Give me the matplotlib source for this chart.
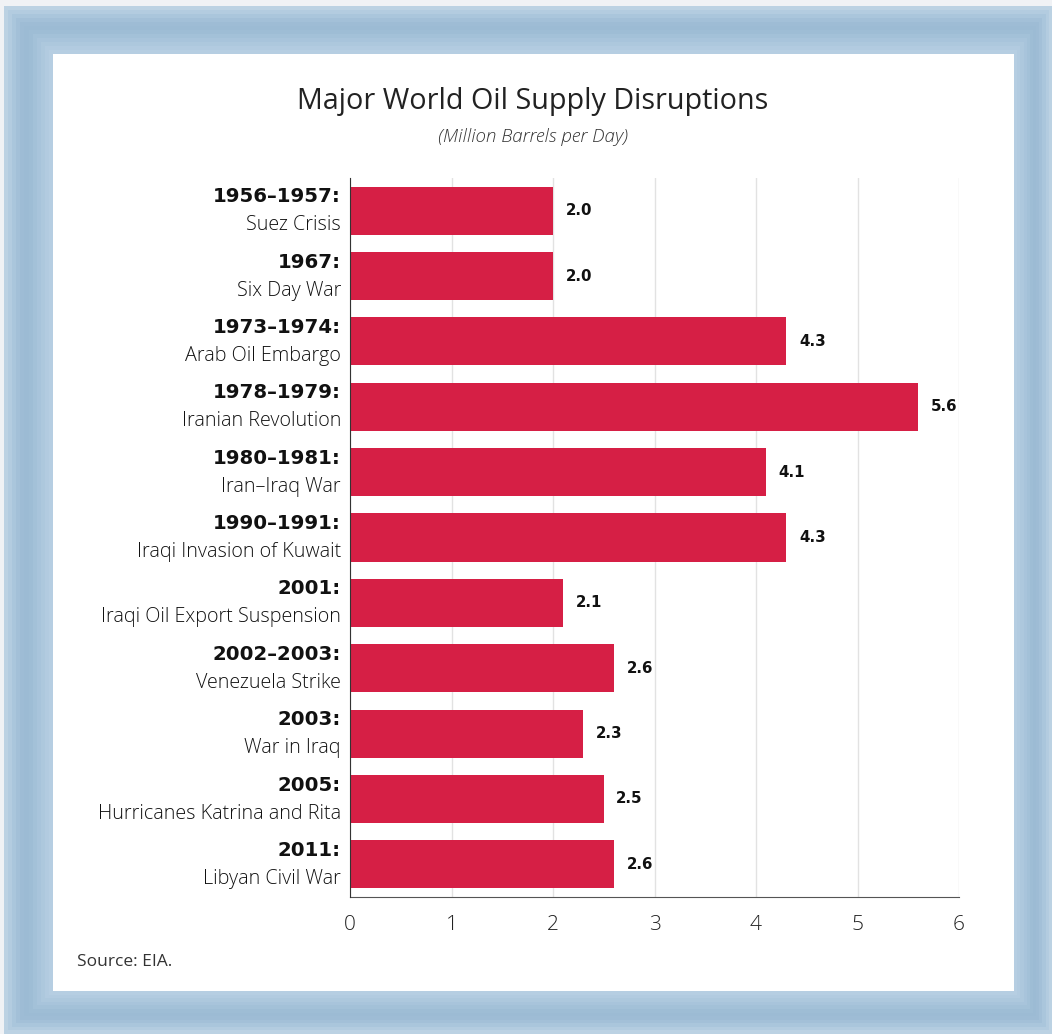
import matplotlib.pyplot as plt
from matplotlib.patches import Rectangle
import numpy as np

years = ["1956–1957:", "1967:", "1973–1974:", "1978–1979:", "1980–1981:",
         "1990–1991:", "2001:", "2002–2003:", "2003:", "2005:", "2011:"]
events = ["Suez Crisis", "Six Day War", "Arab Oil Embargo", "Iranian Revolution",
          "Iran–Iraq War", "Iraqi Invasion of Kuwait", "Iraqi Oil Export Suspension",
          "Venezuela Strike", "War in Iraq", "Hurricanes Katrina and Rita",
          "Libyan Civil War"]
values = [2.0, 2.0, 4.3, 5.6, 4.1, 4.3, 2.1, 2.6, 2.3, 2.5, 2.6]
ticks = [0, 1, 2, 3, 4, 5, 6]

BAR = "#d61f45"
FONT = "Open Sans"
BOLD = "DejaVu Sans"

W, H = 1052, 1034
fig = plt.figure(figsize=(W / 100, H / 100), dpi=100)
fig.patch.set_facecolor("#f0f2f5")

# blue frame with soft shading, drawn from outside in
def px_rect(x0, y0, x1, y1, color):
    fig.patches.append(Rectangle((x0 / W, 1 - y1 / H), (x1 - x0) / W, (y1 - y0) / H,
                                 transform=fig.transFigure, facecolor=color,
                                 edgecolor="none", zorder=-5))

shades = ["#bcd2e3", "#b3cce0", "#aac6dc", "#a3c0d8", "#9ebcd5", "#9cbbd4",
          "#9ebdd5", "#a3c1d8", "#a8c4db", "#adc8dd", "#b2cbe0", "#b6cee2"]
x0, y0, x1, y1 = 4, 6, 1052, 1034
xi0, yi0, xi1, yi1 = 53, 54, 1014, 991
n = len(shades)
for k, c in enumerate(shades):
    t = k / n
    px_rect(x0 + (xi0 - x0) * t, y0 + (yi0 - y0) * t,
            x1 + (xi1 - x1) * t, y1 + (yi1 - y1) * t, c)
px_rect(xi0, yi0, xi1, yi1, "white")

ax = fig.add_axes([350 / W, 1 - 897 / H, (959 - 350) / W, (897 - 178) / H])
ax.set_facecolor("none")
pos = np.arange(len(values))
ax.barh(pos, values, height=0.735, color=BAR, zorder=3)
ax.set_ylim(len(values) - 0.5, -0.5)
ax.set_xlim(0, 6)
ax.set_xticks(ticks)
ax.set_xticklabels([str(t) for t in ticks], fontfamily=FONT, fontweight="light",
                   fontsize=15, color="#222222")
ax.tick_params(axis="x", length=0, pad=13)
ax.set_yticks([])
ax.grid(axis="x", color="#e2e2e2", linewidth=1, zorder=0)
for s in ["top", "right"]:
    ax.spines[s].set_visible(False)
ax.spines["left"].set_color("#333333")
ax.spines["bottom"].set_color("#555555")
ax.spines["left"].set_zorder(4)

for i, (yr, ev, v) in enumerate(zip(years, events, values)):
    ax.annotate(yr, (0, i), xytext=(-6.5, 10), textcoords="offset points",
                ha="right", va="center", fontfamily=BOLD, fontweight="bold",
                fontsize=14.2, color="#111111")
    ax.annotate(ev, (0, i), xytext=(-6.5, -10.5), textcoords="offset points",
                ha="right", va="center", fontfamily=FONT, fontweight="light",
                fontsize=14.2, color="#111111")
    ax.annotate(f"{v:.1f}", (v, i), xytext=(9, 0), textcoords="offset points",
                ha="left", va="center", fontfamily=BOLD, fontweight="bold",
                fontsize=10.8, color="#111111")

fig.text(533 / W, 1 - 102 / H, "Major World Oil Supply Disruptions", ha="center",
         va="center", fontfamily=FONT, fontsize=20.7, color="#222222")
fig.text(533 / W, 1 - 137 / H, "(Million Barrels per Day)", ha="center", va="center",
         fontfamily=FONT, fontstyle="italic", fontweight="light", fontsize=13.5,
         color="#333333")
fig.text(77 / W, 1 - 962 / H, "Source: EIA.", ha="left", va="center",
         fontfamily=FONT, fontsize=12.5, color="#333333")

fig.savefig("out.png", dpi=100)
